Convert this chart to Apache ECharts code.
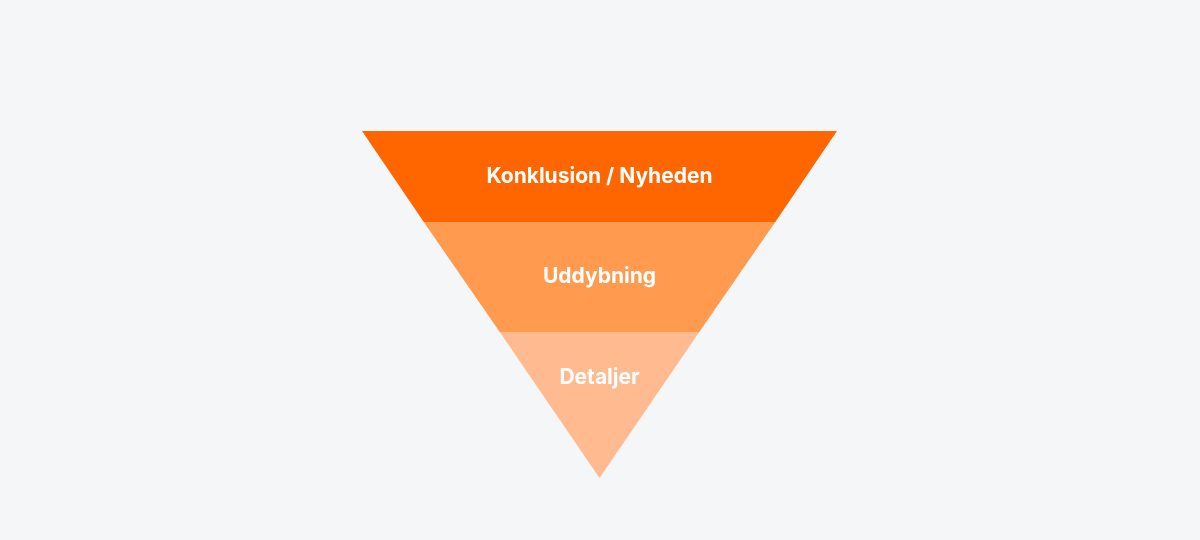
<!DOCTYPE html>
<html lang="da">
<head>
    <meta charset="UTF-8"/>
    <style>
        html, body { margin: 0; padding: 0; background: #f5f6f8; }
    </style>
</head>
<body>

<div id="main" style="width: 1200px;height:540px;"></div>

<script src="https://cdn.jsdelivr.net/npm/echarts@6/dist/echarts.min.js"></script>
<script type="text/javascript">

    // lagene i den omvendte pyramide (top -> bund)
    var layers = ['Konklusion / Nyheden', 'Uddybning', 'Detaljer'];
    // bredde i toppen af hvert lag, relativ til den øverste
    var layerValues = [100, 74, 42];
    var layerColors = ['#ff6600', '#ff9a4f', '#ffbb8f'];
    // hoejde af hvert lag i pixels
    var layerHeights = [91, 110, 146];

    var myChart = echarts.init(document.getElementById('main'));

    var seriesData = [];
    for (var i = 0; i < layers.length; i++) {
        seriesData.push({
            name: layers[i],
            value: layerValues[i],
            itemStyle: { color: layerColors[i], height: layerHeights[i] }
        });
    }

    var options = {
        backgroundColor: '#f5f6f8',
        animation: false,
        series: [
            {
                type: 'funnel',
                left: 362,
                top: 131,
                width: 475,
                height: 347,
                min: 0,
                max: 100,
                minSize: '0%',
                maxSize: '100%',
                sort: 'none',
                gap: 0,
                label: {
                    show: true,
                    position: 'inside',
                    color: '#ffffff',
                    fontFamily: 'Inter',
                    fontWeight: 'bold',
                    fontSize: 21,
                    lineHeight: 27,
                    formatter: function (p) {
                        // nederste label sidder et stykke over midten af trekanten
                        if (p.dataIndex === layers.length - 1) {
                            return p.name + '\n \n ';
                        }
                        return p.name;
                    }
                },
                labelLine: { show: false },
                itemStyle: { borderWidth: 0 },
                emphasis: { disabled: true },
                data: seriesData
            }
        ]
    };

    myChart.setOption(options);

</script>

</body>
</html>
